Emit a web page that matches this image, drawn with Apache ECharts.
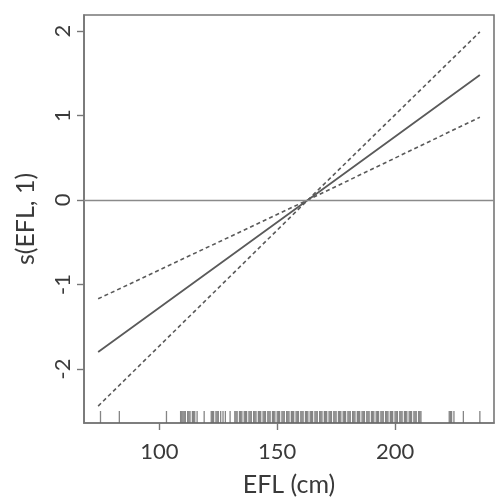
<!DOCTYPE html>
<html>
<head>
<meta charset="utf-8">
<script src="https://cdn.jsdelivr.net/npm/echarts@6/dist/echarts.min.js"></script>
<style>
  html, body { margin: 0; padding: 0; background: #fff; }
  #chart { width: 496px; height: 502px; }
</style>
</head>
<body>
<div id="chart"></div>
<script>
// fitted smooth and its band
var efl = [74, 163, 236];
var fit = [-1.80, 0, 1.48];
var upper = [-1.17, 0, 0.98];
var lower = [-2.44, 0, 1.99];

var xTicks = [100, 150, 200];
var yTicks = [-2, -1, 0, 1, 2];

// rug of observed EFL values
var rug = [
  75, 83, 103,
  109, 109.5, 110, 110.5, 111, 112, 112.5, 113, 114, 114.5, 115, 116, 119,
  122, 122.5, 123, 124, 124.5, 125, 126, 127, 128, 130,
  132, 132.5, 133, 134, 134.5, 135, 136, 136.5, 137, 138, 138.5, 139, 140,
  140.5, 141, 142, 142.5, 143, 144, 144.5, 145, 146, 146.5, 147, 148, 148.5,
  149, 150, 150.5, 151, 152, 152.5, 153, 154, 154.5, 155, 156, 156.5, 157,
  158, 158.5, 159, 160, 160.5, 161, 162, 162.5, 163, 164, 164.5, 165, 166,
  166.5, 167, 168, 168.5, 169, 170, 170.5, 171, 172, 172.5, 173, 174, 174.5,
  175, 176, 176.5, 177, 178, 178.5, 179, 180, 180.5, 181, 182, 182.5, 183,
  184, 184.5, 185, 186, 186.5, 187, 188, 188.5, 189, 190, 190.5, 191, 192,
  192.5, 193, 194, 194.5, 195, 196, 196.5, 197, 198, 198.5, 199, 200, 200.5,
  201, 202, 202.5, 203, 204, 204.5, 205, 206, 206.5, 207, 208, 208.5, 209,
  210, 210.5, 211,
  223, 223.5, 224, 225, 229, 236
];

var X_MIN = 68, X_MAX = 242, Y_MIN = -2.64, Y_MAX = 2.19;

function pairs(xs, ys) {
  var out = [];
  for (var i = 0; i < xs.length; i++) out.push([xs[i], ys[i]]);
  return out;
}

var fontFam = "Lato, 'Open Sans', sans-serif";
var ink = "#5a5a5a";

var chart = echarts.init(document.getElementById("chart"));
chart.setOption({
  animation: false,
  grid: {
    left: 84, right: 2, top: 15, bottom: 79,
    show: true, borderColor: "#777", borderWidth: 1.6
  },
  xAxis: {
    type: "value",
    min: X_MIN, max: X_MAX,
    name: "EFL (cm)",
    nameLocation: "middle",
    nameGap: 49,
    nameTextStyle: { color: "#3a3a3a", fontSize: 25, fontFamily: fontFam },
    axisLine: { show: true, onZero: false, lineStyle: { color: "#777", width: 1.6 } },
    axisTick: { show: true, length: 7, lineStyle: { color: "#777", width: 1.4 }, customValues: xTicks },
    axisLabel: { color: "#3a3a3a", fontSize: 22, fontFamily: fontFam, margin: 18, customValues: xTicks },
    splitLine: { show: false }
  },
  yAxis: {
    type: "value",
    min: Y_MIN, max: Y_MAX,
    name: "s(EFL, 1)",
    nameLocation: "middle",
    nameGap: 46,
    nameRotate: 90,
    nameTextStyle: { color: "#3a3a3a", fontSize: 25, fontFamily: fontFam },
    axisLine: { show: true, onZero: false, lineStyle: { color: "#777", width: 1.6 } },
    axisTick: { show: true, length: 7, lineStyle: { color: "#777", width: 1.4 }, customValues: yTicks },
    axisLabel: { color: "#3a3a3a", fontSize: 22, fontFamily: fontFam, rotate: 90, margin: 10, customValues: yTicks },
    splitLine: { show: false }
  },
  series: [
    {
      type: "line",
      data: pairs(efl, fit),
      symbol: "none",
      lineStyle: { color: ink, width: 1.8 },
      markLine: {
        silent: true,
        symbol: "none",
        label: { show: false },
        lineStyle: { color: "#8a8a8a", width: 1.4, type: "solid" },
        data: [{ yAxis: 0 }]
      }
    },
    {
      type: "line",
      data: pairs(efl, upper),
      symbol: "none",
      lineStyle: { color: ink, width: 1.6, type: [4, 3] }
    },
    {
      type: "line",
      data: pairs(efl, lower),
      symbol: "none",
      lineStyle: { color: ink, width: 1.6, type: [4, 3] }
    },
    {
      type: "scatter",
      data: rug.map(function (v) { return [v, Y_MIN]; }),
      symbol: "rect",
      symbolSize: [1.3, 12],
      symbolOffset: [0, -6],
      itemStyle: { color: "#666" },
      clip: false
    }
  ]
});
</script>
</body>
</html>
